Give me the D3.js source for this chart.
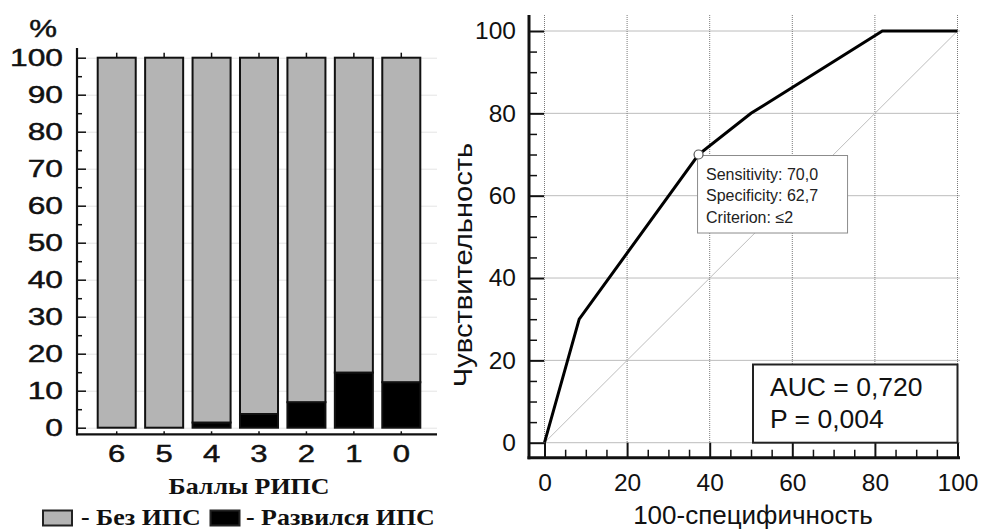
<!DOCTYPE html>
<html>
<head>
<meta charset="utf-8">
<script src="https://cdn.jsdelivr.net/npm/d3@7/dist/d3.min.js"></script>
<style>
  html, body { margin: 0; padding: 0; background: #fff; }
  svg { display: block; }
  .sans { font-family: "Liberation Sans", Arial, sans-serif; }
  .serif { font-family: "Liberation Serif", "Times New Roman", serif; font-weight: bold; }
  .heavy { stroke: #111; stroke-width: 0.45px; }
</style>
</head>
<body>
<svg id="chart" width="982" height="530"></svg>
<script>
// ---- Left panel: share of outcomes by RIPS score ----
const scores = ["6", "5", "4", "3", "2", "1", "0"];
const withoutPct = [100, 100, 98.6, 96.3, 93.1, 85.1, 87.7];   // Без ИПС
const developedPct = [0, 0, 1.4, 3.7, 6.9, 14.9, 12.3];       // Развился ИПС
const leftTicks = [0, 10, 20, 30, 40, 50, 60, 70, 80, 90, 100];
const leftMinor = [5, 15, 25, 35, 45, 55, 65, 75, 85, 95];
const seriesKeys = ["developed", "without"];
const seriesNames = ["Без ИПС", "Развился ИПС"];

// ---- Right panel: ROC curve ----
const rocX = [0, 8.4, 37.3, 50, 81.8, 100];   // 100-специфичность
const rocY = [0, 30, 70, 80, 100, 100];       // Чувствительность
const rocTicks = [0, 20, 40, 60, 80, 100];
const rocMinor = [5, 10, 15, 25, 30, 35, 45, 50, 55, 65, 70, 75, 85, 90, 95];
const cutPoint = { sens: "70,0", spec: "62,7", crit: "≤2", x: 37.3, y: 70 };
const aucText = "AUC = 0,720";
const pText = "P = 0,004";

const svg = d3.select("#chart");
const ink = "#111";

/* ================= LEFT PANEL ================= */
const L = { axisX: 77, axisY: 434.3, right: 437, top: 48 };
const xL = d3.scaleBand().domain(scores).range([93, 425])
  .paddingInner(7.4 / 47.4).paddingOuter(3.7 / 47.4);
const yL = d3.scaleLinear().domain([0, 100]).range([427.7, 57.7]);

const gL = svg.append("g");

// light horizontal grid
gL.append("g")
  .attr("transform", `translate(${L.axisX},0)`)
  .call(d3.axisRight(yL).tickValues(leftTicks).tickSize(L.right - L.axisX).tickFormat(""))
  .call(g => g.select(".domain").remove())
  .call(g => g.selectAll("line").attr("stroke", "#e4e4e4").attr("stroke-width", 1));

// stacked bars
const rows = scores.map((s, i) => ({ score: s, developed: developedPct[i], without: withoutPct[i] }));
const stacked = d3.stack().keys(seriesKeys)(rows);
const fills = { developed: "#000", without: "#b4b4b4" };
gL.append("g").selectAll("g").data(stacked).join("g")
  .attr("fill", d => fills[d.key])
  .selectAll("rect").data(d => d.filter(p => p[1] - p[0] > 0)).join("rect")
  .attr("x", d => xL(d.data.score) + 1)
  .attr("width", xL.bandwidth() - 2)
  .attr("y", d => yL(d[1]))
  .attr("height", d => yL(d[0]) - yL(d[1]))
  .attr("stroke", ink).attr("stroke-width", 2);

// small category ticks above the 100% line
gL.append("g")
  .attr("transform", `translate(0,${yL(100)})`)
  .call(d3.axisTop(xL).tickSize(5).tickFormat(""))
  .call(g => g.select(".domain").remove())
  .call(g => g.selectAll("line").attr("stroke", ink).attr("stroke-width", 1.5));

// bottom axis with score labels
const xAxL = gL.append("g")
  .attr("transform", `translate(0,${L.axisY})`)
  .call(d3.axisBottom(xL).tickSizeInner(-3).tickSizeOuter(0).tickPadding(11))
  .call(g => g.select(".domain").remove());
xAxL.selectAll("line").attr("stroke", ink).attr("stroke-width", 1.5);
xAxL.selectAll("text")
  .attr("class", "sans heavy").attr("font-size", 23).attr("fill", ink)
  .each(function () {
    const t = d3.select(this);
    const y = +t.attr("y");
    t.attr("y", null).attr("transform", `translate(0,${y}) scale(1.35,1)`);
  });

// y axis: major ticks with labels, minor ticks
const yAxL = gL.append("g")
  .attr("transform", `translate(${L.axisX},0)`)
  .call(d3.axisLeft(yL).tickValues(leftTicks).tickSizeInner(-9).tickSizeOuter(0).tickPadding(14))
  .call(g => g.select(".domain").remove());
yAxL.selectAll("line").attr("stroke", ink).attr("stroke-width", 1.5);
yAxL.selectAll("text")
  .attr("class", "sans heavy").attr("font-size", 23).attr("fill", ink)
  .each(function () {
    const t = d3.select(this);
    const x = +t.attr("x");
    t.attr("x", null).attr("transform", `translate(${x},0) scale(1.38,1)`);
  });
gL.append("g")
  .attr("transform", `translate(${L.axisX},0)`)
  .call(d3.axisLeft(yL).tickValues(leftMinor).tickSizeInner(-5).tickSizeOuter(0).tickFormat(""))
  .call(g => g.select(".domain").remove())
  .call(g => g.selectAll("line").attr("stroke", ink).attr("stroke-width", 1.5));

// axis lines
gL.append("line").attr("x1", L.axisX).attr("x2", L.axisX).attr("y1", L.top).attr("y2", L.axisY + 1)
  .attr("stroke", ink).attr("stroke-width", 2.2);
gL.append("line").attr("x1", L.axisX - 1).attr("x2", L.right).attr("y1", L.axisY).attr("y2", L.axisY)
  .attr("stroke", ink).attr("stroke-width", 2.2);

// unit label
gL.append("text").attr("class", "sans heavy").attr("font-size", 24).attr("fill", ink)
  .attr("text-anchor", "middle")
  .attr("transform", "translate(43,37) scale(1.3,1)").text("%");

// axis title
gL.append("text").attr("class", "serif").attr("font-size", 24).attr("fill", ink)
  .attr("text-anchor", "middle")
  .attr("transform", "translate(249,494) scale(1.08,1)").text("Баллы РИПС");

// legend
const legend = gL.append("g");
const legendItems = [
  { key: "without", name: seriesNames[0], box: 42, text: 81 },
  { key: "developed", name: seriesNames[1], box: 209.5, text: 246 }
];
legendItems.forEach(it => {
  legend.append("rect").attr("x", it.box + 1).attr("y", 510.5).attr("width", 29).attr("height", 15)
    .attr("fill", fills[it.key]).attr("stroke", "#222").attr("stroke-width", 2);
  legend.append("text").attr("class", "serif").attr("font-size", 24).attr("fill", ink)
    .attr("transform", `translate(${it.text},524.5) scale(1.08,1)`).text("- " + it.name);
});

/* ================= RIGHT PANEL ================= */
const R = { axisX: 529, axisY: 457.7, top: 15, right: 960 };
const xR = d3.scaleLinear().domain([0, 100]).range([544.5, 957.5]);
const yR = d3.scaleLinear().domain([0, 100]).range([442.7, 31]);
const gR = svg.append("g");

// dotted grid
gR.append("g").selectAll("line.v").data(rocTicks).join("line")
  .attr("x1", d => xR(d)).attr("x2", d => xR(d)).attr("y1", R.top).attr("y2", yR(0))
  .attr("stroke", "#7a7a7a").attr("stroke-width", 1).attr("stroke-dasharray", "1,1");
gR.append("g").selectAll("line.h").data(rocTicks).join("line")
  .attr("x1", xR(0)).attr("x2", R.right).attr("y1", d => yR(d)).attr("y2", d => yR(d))
  .attr("stroke", "#7a7a7a").attr("stroke-width", 1).attr("stroke-dasharray", "1,1");

// reference diagonal
gR.append("line")
  .attr("x1", xR(0)).attr("y1", yR(0)).attr("x2", xR(100)).attr("y2", yR(100))
  .attr("stroke", "#bdbdbd").attr("stroke-width", 1);

// ROC curve
const rocPts = rocX.map((x, i) => [x, rocY[i]]);
gR.append("path").datum(rocPts)
  .attr("fill", "none").attr("stroke", "#000").attr("stroke-width", 3)
  .attr("stroke-linejoin", "miter")
  .attr("d", d3.line().x(d => xR(d[0])).y(d => yR(d[1])));

// axes
const yAxR = gR.append("g")
  .attr("transform", `translate(${R.axisX},0)`)
  .call(d3.axisLeft(yR).tickValues(rocTicks).tickSizeInner(-15).tickSizeOuter(0).tickPadding(13))
  .call(g => g.select(".domain").remove());
yAxR.selectAll("line").attr("stroke", ink).attr("stroke-width", 2);
yAxR.selectAll("text").attr("class", "sans").attr("font-size", 24.5).attr("fill", ink);
gR.append("g")
  .attr("transform", `translate(${R.axisX},0)`)
  .call(d3.axisLeft(yR).tickValues(rocMinor).tickSizeInner(-8).tickSizeOuter(0).tickFormat(""))
  .call(g => g.select(".domain").remove())
  .call(g => g.selectAll("line").attr("stroke", ink).attr("stroke-width", 1.5));

const xAxR = gR.append("g")
  .attr("transform", `translate(0,${R.axisY})`)
  .call(d3.axisBottom(xR).tickValues(rocTicks).tickSizeInner(-15).tickSizeOuter(0).tickPadding(15.5))
  .call(g => g.select(".domain").remove());
xAxR.selectAll("line").attr("stroke", ink).attr("stroke-width", 2);
xAxR.selectAll("text").attr("class", "sans").attr("font-size", 24.5).attr("fill", ink);
gR.append("g")
  .attr("transform", `translate(0,${R.axisY})`)
  .call(d3.axisBottom(xR).tickValues(rocMinor).tickSizeInner(-8).tickSizeOuter(0).tickFormat(""))
  .call(g => g.select(".domain").remove())
  .call(g => g.selectAll("line").attr("stroke", ink).attr("stroke-width", 1.5));

gR.append("line").attr("x1", R.axisX).attr("x2", R.axisX).attr("y1", R.top).attr("y2", R.axisY + 1.5)
  .attr("stroke", ink).attr("stroke-width", 3);
gR.append("line").attr("x1", R.axisX - 1.5).attr("x2", R.right).attr("y1", R.axisY).attr("y2", R.axisY)
  .attr("stroke", ink).attr("stroke-width", 3);

// axis titles
gR.append("text").attr("class", "sans").attr("font-size", 26).attr("fill", ink)
  .attr("text-anchor", "middle")
  .attr("transform", "translate(472,265) rotate(-90) scale(1.12,1)").text("Чувствительность");
gR.append("text").attr("class", "sans").attr("font-size", 26).attr("fill", ink)
  .attr("text-anchor", "middle").attr("x", 753).attr("y", 523.5).text("100-специфичность");

// AUC box
const auc = gR.append("g");
auc.append("rect").attr("x", 753).attr("y", 364.5).attr("width", xR(100) - 753).attr("height", yR(0) - 364.5)
  .attr("fill", "#fff").attr("stroke", "#222").attr("stroke-width", 2);
auc.append("text").attr("class", "sans").attr("font-size", 26.5).attr("fill", ink)
  .attr("x", 770).attr("y", 396).text(aucText);
auc.append("text").attr("class", "sans").attr("font-size", 26.5).attr("fill", ink)
  .attr("x", 770).attr("y", 427.5).text(pText);

// cut-off marker with its tooltip
const px = xR(cutPoint.x), py = yR(cutPoint.y);
const tip = gR.append("g").attr("transform", `translate(${px - 1},${py + 1})`);
tip.append("rect").attr("width", 150).attr("height", 77.5)
  .attr("fill", "#fff").attr("stroke", "#8c8c8c").attr("stroke-width", 1);
[
  "Sensitivity: " + cutPoint.sens,
  "Specificity: " + cutPoint.spec,
  "Criterion: " + cutPoint.crit
].forEach((s, i) => {
  tip.append("text").attr("class", "sans").attr("font-size", 16).attr("fill", "#222")
    .attr("x", 8.5).attr("y", 24 + i * 21.6).text(s);
});
gR.append("circle").attr("cx", px).attr("cy", py).attr("r", 4.5)
  .attr("fill", "#fff").attr("stroke", "#555").attr("stroke-width", 1.2);
</script>
</body>
</html>
